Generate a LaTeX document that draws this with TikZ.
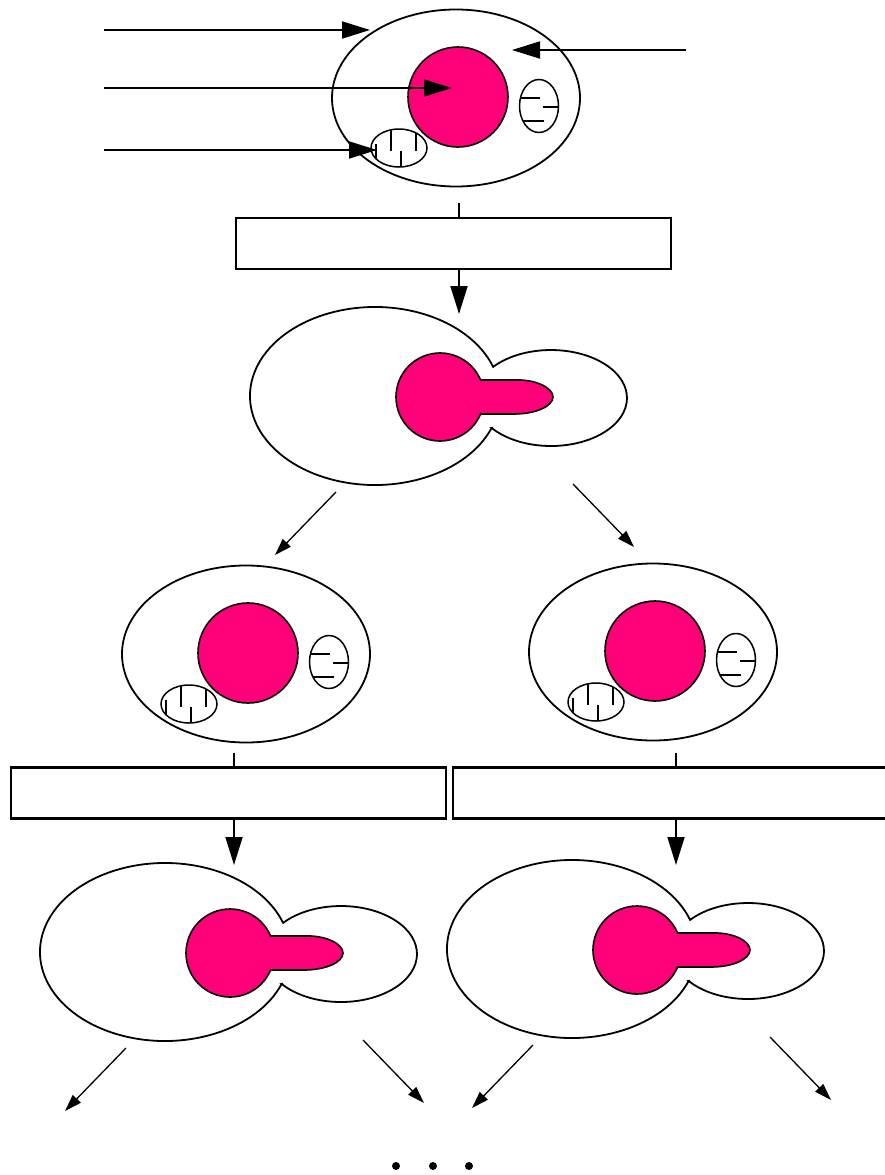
\documentclass[tikz,border=0pt]{standalone}
\usetikzlibrary{shapes.geometric,arrows.meta}
\definecolor{nucpink}{RGB}{255,0,120}
\tikzset{
  membrane/.style={draw, line width=1.8pt, ellipse, inner sep=0pt},
  nucleus/.style={draw, fill=nucpink, line width=1.6pt},
  mito/.style={draw, line width=1.5pt, ellipse, inner sep=0pt},
  stagebox/.style={draw, line width=2.2pt, minimum width=435pt, minimum height=51pt, inner sep=0pt},
  bigarrow/.style={line width=1.8pt, -{Triangle[length=28pt,width=17pt]}},
  thinarrow/.style={line width=1.3pt, -{Triangle[length=17pt,width=11pt]}},
  % a resting cell: membrane, nucleus, two mitochondria
  cell/.pic={
    \node[membrane, minimum width=248pt, minimum height=177pt] (-body) at (0,0) {};
    \node[nucleus, circle, minimum size=100pt, inner sep=0pt] (-nuc) at (2,-1) {};
    \node[mito, minimum width=39pt, minimum height=53pt] (-mr) at (83,8) {};
    \node[mito, minimum width=56pt, minimum height=38pt] (-ml) at (-57,50) {};
    \begin{scope}
      \clip (83,8) ellipse [x radius=19.5, y radius=26.5];
      \draw[line width=1.5pt] (63,0) -- ++(21,0) (103,9) -- ++(-16,0) (63,23) -- ++(25,0);
    \end{scope}
    \begin{scope}
      \clip (-57,50) ellipse [x radius=28, y radius=19];
      \draw[line width=1.5pt] (-80,46) -- ++(0,17) (-65,30) -- ++(0,23)
        (-55,70) -- ++(0,-17) (-40,30) -- ++(0,23);
    \end{scope}
  },
  % a budding cell: mother and bud outline, dividing nucleus
  budding/.pic={
    \draw[line width=1.8pt] (35.65,31.95)
      arc[start angle=21.04, end angle=340.92, x radius=125, y radius=89]
      arc[start angle=-139.6, end angle=141.4, x radius=76, y radius=48] -- cycle;
    \draw[nucleus] (-16,1) ++(-22.7:44) arc[start angle=-22.7, end angle=-337.3, radius=44]
      -- (58,18) .. controls (80,18) and (97,10) .. (97,1)
      .. controls (97,-8) and (80,-17) .. (58,-16) -- cycle;
    \coordinate (-dl) at (-120,96);
    \coordinate (-dle) at (-181,159);
    \coordinate (-dr) at (117,88);
    \coordinate (-dre) at (178,151);
  }
}
\begin{document}
\begin{tikzpicture}[x=1pt,y=-1pt]
  \useasboundingbox (0,0) rectangle (884,1175);
  % cells
  \pic (c0) at (456,98) {cell};
  \pic (c1) at (246,654) {cell};
  \pic (c2) at (653,652) {cell};
  \pic (b0) at (456,396) {budding};
  \pic (b1) at (246,952) {budding};
  \pic (b2) at (653,949) {budding};
  % boxes
  \node[stagebox] (box0) at (453.5,243.5) {};
  \node[stagebox] (box1) at (228.5,793) {};
  \node[stagebox] (box2) at (670.5,793) {};
  %
  % arrows pointing into the first cell
  \coordinate (in1) at (104,30);  \coordinate (to1) at (370,30);
  \coordinate (in2) at (686,50);  \coordinate (to2) at (512,50);
  \coordinate (in3) at (104,88);  \coordinate (to3) at (452,88);
  \coordinate (in4) at (104,150); \coordinate (to4) at (377,150);
  \foreach \n in {1,...,4}
    \draw[bigarrow] (in\n) -- (to\n);
  %
  \foreach \n/\x/\ys/\ye in {0/459/203/314,1/234/753/865,2/676/753/865}{
    \coordinate (s\n) at (\x,\ys);
    \coordinate (e\n) at (\x,\ye);
    \draw[line width=1.8pt] (s\n) -- (s\n |- box\n.north);
    \draw[bigarrow] (e\n |- box\n.south) -- (e\n);
  }
  %
  \foreach \b in {b0,b1,b2}{
    \draw[thinarrow] (\b-dl) -- (\b-dle);
    \draw[thinarrow] (\b-dr) -- (\b-dre);
  }
  \foreach \x in {396,433,469}
    \fill (\x,1166) circle[radius=4];
\end{tikzpicture}
\end{document}
